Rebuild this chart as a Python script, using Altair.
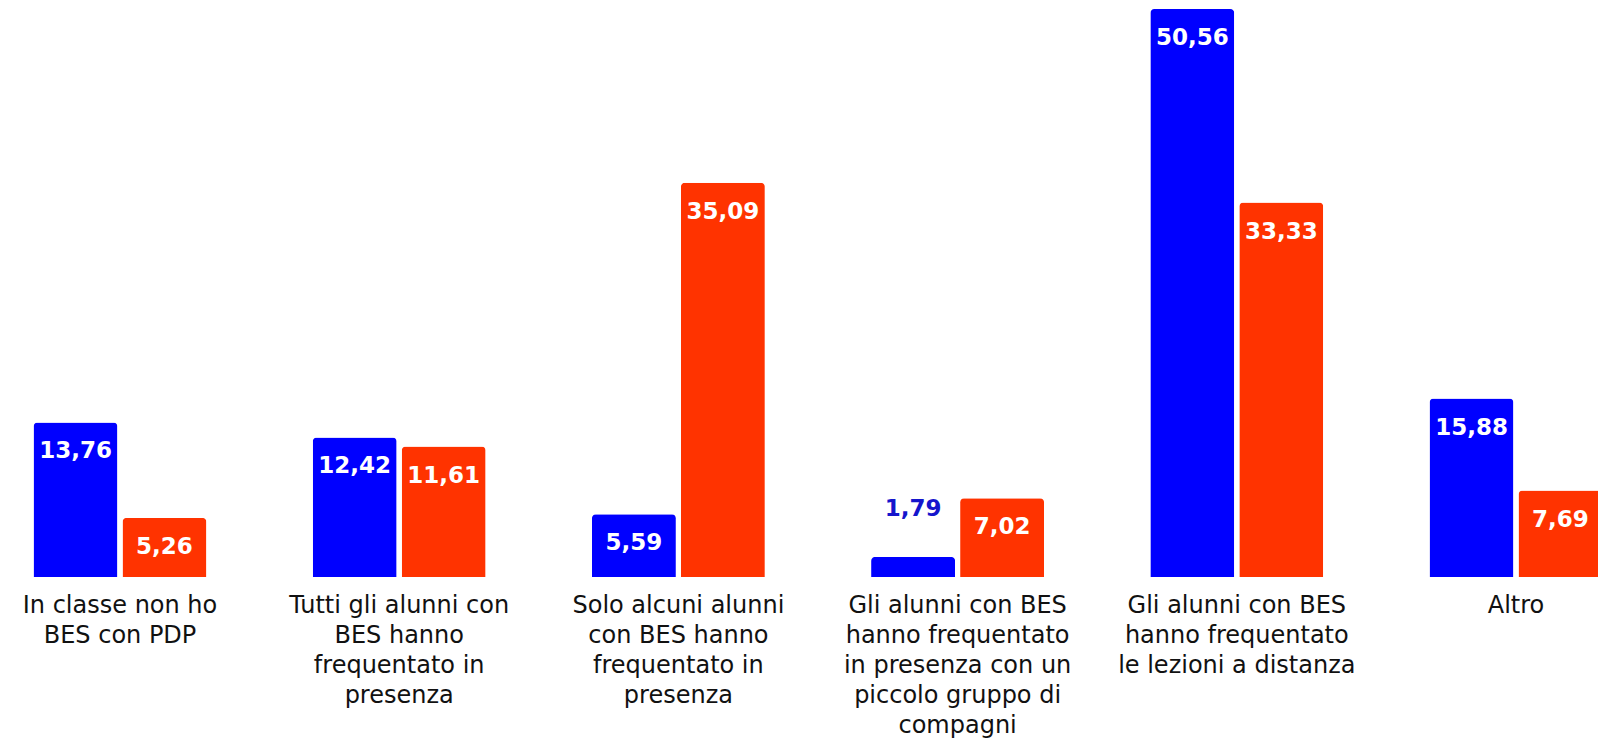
import altair as alt
import pandas as pd

categories = [
    "In classe non ho|BES con PDP",
    "Tutti gli alunni con|BES hanno|frequentato in|presenza",
    "Solo alcuni alunni|con BES hanno|frequentato in|presenza",
    "Gli alunni con BES|hanno frequentato|in presenza con un|piccolo gruppo di|compagni",
    "Gli alunni con BES|hanno frequentato|le lezioni a distanza",
    "Altro",
]
series_names = ["Serie 1", "Serie 2"]
serie1 = [13.76, 12.42, 5.59, 1.79, 50.56, 15.88]
serie2 = [5.26, 11.61, 35.09, 7.02, 33.33, 7.69]
colors = ["#0000FF", "#FF3300"]

rows = []
for i, c in enumerate(categories):
    rows.append({"cat": c, "serie": series_names[0], "val": serie1[i],
                 "lbl": f"{serie1[i]:.2f}".replace(".", ",")})
    rows.append({"cat": c, "serie": series_names[1], "val": serie2[i],
                 "lbl": f"{serie2[i]:.2f}".replace(".", ",")})
df = pd.DataFrame(rows)

step = 279.2
start = 112 - step / 2
x_enc = alt.X(
    "cat:N",
    sort=categories,
    scale=alt.Scale(range=[start, start + 6 * step], paddingInner=0, paddingOuter=0),
    axis=alt.Axis(
        title=None, domain=False, ticks=False, grid=False,
        labelExpr="split(datum.label, '|')",
        labelAngle=0, labelFont="DejaVu Sans", labelFontSize=24,
        labelColor="#111111", labelPadding=16, labelLineHeight=30,
        labelLimit=0, labelOverlap=False, labelBound=False, labelFlush=False,
    ),
)
xoff = alt.XOffset("serie:N", sort=series_names,
                   scale=alt.Scale(paddingInner=0.056, paddingOuter=0.597))
y_enc = alt.Y("val:Q", scale=alt.Scale(domain=[0, 50.65]), axis=None)
col = alt.Color("serie:N", sort=series_names,
                scale=alt.Scale(domain=series_names, range=colors), legend=None)

base = alt.Chart(df).encode(x=x_enc, xOffset=xoff, y=y_enc)

bars = base.mark_bar(cornerRadiusTopLeft=4, cornerRadiusTopRight=4).encode(color=col)

inside = base.transform_filter("datum.val >= 3").mark_text(
    font="DejaVu Sans", fontWeight="bold", fontSize=23, color="white",
    baseline="middle", align="center", dy=29,
).encode(text="lbl:N")

outside = base.transform_filter("datum.val < 3").mark_text(
    font="DejaVu Sans", fontWeight="bold", fontSize=23, color="#1515CC",
    baseline="middle", align="center", dy=-48,
).encode(text="lbl:N")

chart = (bars + inside + outside).properties(
    width=1590, height=569,
    background="white",
    autosize=alt.AutoSizeParams(type="none"),
    padding={"left": 0, "right": 0, "top": 0, "bottom": 161},
).configure_view(strokeWidth=0, stroke="transparent")

chart.save("out.html", embed_options={"renderer": "svg", "actions": False})
